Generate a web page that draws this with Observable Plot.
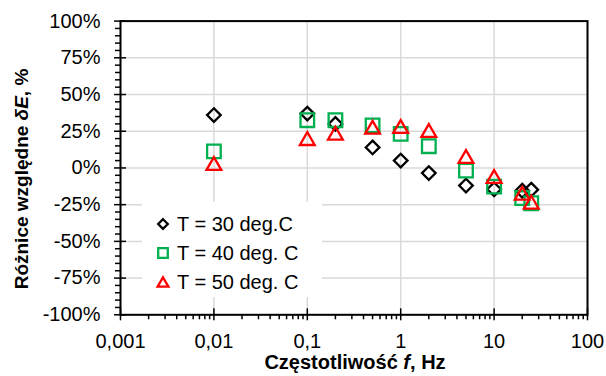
<!DOCTYPE html>
<html>
<head>
<meta charset="utf-8">
<script src="https://cdn.jsdelivr.net/npm/d3@7"></script>
<script src="https://cdn.jsdelivr.net/npm/@observablehq/plot@0.6"></script>
<style>
  html, body { margin: 0; padding: 0; background: #fff; }
  #chart { width: 606px; height: 376px; }
</style>
</head>
<body>
<div id="chart"></div>
<script>
// ---- data ----
const freq = [0.01, 0.1, 0.2, 0.5, 1, 2, 5, 10, 20, 25];
const t30 = [0.36, 0.37, 0.30, 0.14, 0.05, -0.035, -0.12, -0.145, -0.155, -0.148];
const t40 = [0.113, 0.325, 0.325, 0.29, 0.232, 0.148, -0.018, -0.127, -0.205, -0.24];
const t50 = [0.03, 0.20, 0.237, 0.277, 0.282, 0.255, 0.078, -0.058, -0.172, -0.233];
const seriesNames = ["T = 30 deg.C", "T = 40 deg. C", "T = 50 deg. C"];
const seriesColors = ["#000000", "#00b050", "#ff0000"];
const xTicks = [0.001, 0.01, 0.1, 1, 10, 100];
const xTickLabels = ["0,001", "0,01", "0,1", "1", "10", "100"];
const yTicks = [-1, -0.75, -0.5, -0.25, 0, 0.25, 0.5, 0.75, 1];
const yTickLabels = ["-100%", "-75%", "-50%", "-25%", "0%", "25%", "50%", "75%", "100%"];

// minor ticks
const xMinor = [];
for (let i = 0; i < xTicks.length - 1; i++) for (let m = 2; m <= 9; m++) xMinor.push(xTicks[i] * m);
const yMinor = d3.range(-100, 101, 5).filter(v => v % 25 !== 0).map(v => v / 100);

// symbols (geometry only)
const diamondSym = {draw(ctx, size) { const r = Math.sqrt(size / Math.PI); ctx.moveTo(0, -r); ctx.lineTo(r, 0); ctx.lineTo(0, r); ctx.lineTo(-r, 0); ctx.closePath(); }};
const squareSym = {draw(ctx, size) { const r = Math.sqrt(size / Math.PI); ctx.moveTo(-r, -r); ctx.lineTo(r, -r); ctx.lineTo(r, r); ctx.lineTo(-r, r); ctx.closePath(); }};
const triSym = {draw(ctx, size) { const r = Math.sqrt(size / Math.PI); const h = r * 0.866; ctx.moveTo(0, -h); ctx.lineTo(r, h); ctx.lineTo(-r, h); ctx.closePath(); }};
const syms = [diamondSym, squareSym, triSym];
const symR = [6.8, 6.8, 7.4];

const rows = (vals) => freq.map((f, i) => ({f, v: vals[i]}));
const allSeries = [t30, t40, t50];

const xFmt = d => xTickLabels[xTicks.indexOf(d)];
const yFmt = d => yTickLabels[yTicks.findIndex(t => Math.abs(t - d) < 1e-9)];

const grid = {stroke: "#d9d9d9", strokeOpacity: 1, strokeWidth: 1.5};

const chart = Plot.plot({
  width: 606, height: 376,
  marginLeft: 120, marginRight: 19, marginTop: 20.6, marginBottom: 61.7,
  style: {fontFamily: "'Liberation Sans', Arial, sans-serif", fontSize: "20px", color: "#000", background: "#fff", overflow: "visible"},
  x: {type: "log", domain: [0.001, 100]},
  y: {domain: [-1, 1]},
  marks: [
    Plot.gridX(xTicks, grid),
    Plot.gridY(yTicks, grid),
    // labels
    Plot.axisX(xTicks, {tickSize: 0, tickPadding: 19, tickFormat: xFmt, label: null, fontSize: 20}),
    Plot.axisY(yTicks, {tickSize: 0, tickPadding: 20, tickFormat: yFmt, label: null, fontSize: 20}),
    // crossing major ticks
    Plot.axisX(xTicks, {tickSize: 12, dy: -6, text: null, label: null, strokeWidth: 1.5}),
    Plot.axisY(yTicks, {tickSize: 12, dx: 6, text: null, label: null, strokeWidth: 1.5}),
    // minor ticks outward
    Plot.axisX(xMinor, {tickSize: 5, text: null, label: null, strokeWidth: 1.5}),
    Plot.axisY(yMinor, {tickSize: 5, text: null, label: null, strokeWidth: 1.5}),
    Plot.frame({stroke: "#000", strokeWidth: 2}),
    ...allSeries.map((vals, k) => Plot.dot(rows(vals), {
      x: "f", y: "v", symbol: syms[k], r: symR[k], stroke: seriesColors[k], fill: "none", strokeWidth: 2.3
    }))
  ]
});
document.getElementById("chart").append(chart);

// ---- titles & legend ----
const svg = d3.select(chart);
const fontFam = "'Liberation Sans', Arial, sans-serif";

const yt = svg.append("text")
  .attr("transform", "translate(28,179) rotate(-90)")
  .attr("text-anchor", "middle")
  .attr("font-family", fontFam).attr("font-weight", "bold").attr("font-size", 19).attr("fill", "#000");
yt.append("tspan").text("Różnice względne ");
yt.append("tspan").attr("font-style", "italic").text("δE");
yt.append("tspan").text(", %");

const xt = svg.append("text")
  .attr("x", 355).attr("y", 369)
  .attr("text-anchor", "middle")
  .attr("font-family", fontFam).attr("font-weight", "bold").attr("font-size", 20).attr("fill", "#000");
xt.append("tspan").text("Częstotliwość ");
xt.append("tspan").attr("font-style", "italic").text("f");
xt.append("tspan").text(", Hz");

const lg = svg.append("g");
lg.append("rect").attr("x", 142).attr("y", 202).attr("width", 180).attr("height", 95).attr("fill", "#fff");
seriesNames.forEach((name, k) => {
  const cy = 224 + k * 29;
  lg.append("path")
    .attr("transform", `translate(163,${cy})`)
    .attr("d", d3.symbol(syms[k], Math.PI * (symR[k] - 2) ** 2)())
    .attr("fill", "none").attr("stroke", seriesColors[k]).attr("stroke-width", 2.3);
  lg.append("text").attr("x", 177).attr("y", cy).attr("dy", "0.35em")
    .attr("text-anchor", "start")
    .attr("font-family", fontFam).attr("font-size", 20).attr("fill", "#000").text(name);
});
</script>
</body>
</html>
